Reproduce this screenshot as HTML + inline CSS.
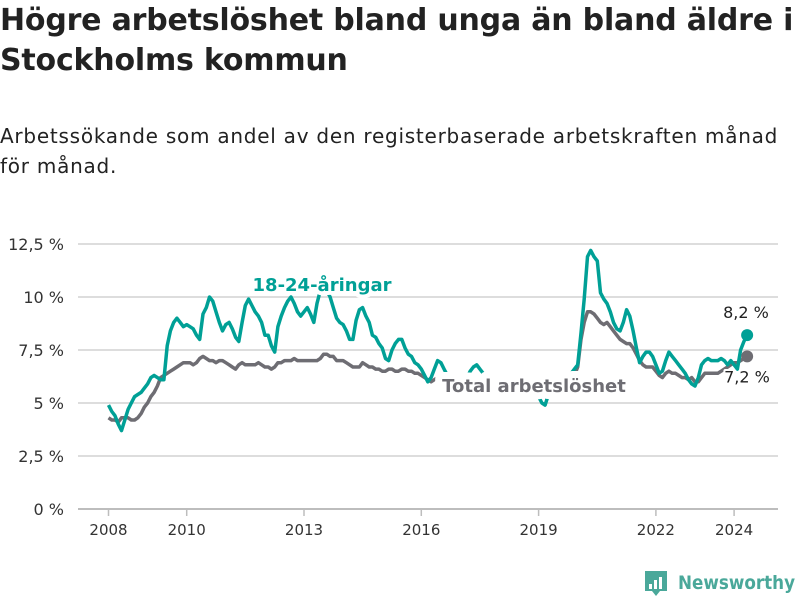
<!DOCTYPE html>
<html><head><meta charset="utf-8">
<style>
body{margin:0;background:#fff;width:800px;height:600px;overflow:hidden;font-family:"Liberation Sans","DejaVu Sans",sans-serif;}
#title{position:absolute;left:0;top:1px;font-size:30px;font-weight:bold;line-height:40px;color:#222;font-family:"DejaVu Sans",sans-serif;letter-spacing:-0.2px;white-space:nowrap;}
#sub{position:absolute;left:0;top:121px;font-size:20px;line-height:30px;color:#222;font-family:"DejaVu Sans",sans-serif;letter-spacing:0.75px;white-space:nowrap;}
svg{position:absolute;left:0;top:0;}
</style></head><body>
<div id="title">Högre arbetslöshet bland unga än bland äldre i<br>Stockholms kommun</div>
<div id="sub">Arbetssökande som andel av den registerbaserade arbetskraften månad<br>för månad.</div>
<svg id="chart" width="800" height="600"></svg>
<script>
const startYear = 2008;
const yTicks = [0, 2.5, 5, 7.5, 10, 12.5];
const yTickLabels = ["0 %", "2,5 %", "5 %", "7,5 %", "10 %", "12,5 %"];
const xTicks = [2008, 2010, 2013, 2016, 2019, 2022, 2024];
const youth = [
4.9,4.6,4.4,4.0,3.7,4.2,4.7,5.0,5.3,5.4,5.5,5.7,
5.9,6.2,6.3,6.2,6.1,6.1,7.7,8.4,8.8,9.0,8.8,8.6,
8.7,8.6,8.5,8.2,8.0,9.2,9.5,10.0,9.8,9.3,8.8,8.4,
8.7,8.8,8.5,8.1,7.9,8.8,9.6,9.9,9.6,9.3,9.1,8.8,
8.2,8.2,7.7,7.4,8.6,9.1,9.5,9.8,10.0,9.7,9.3,9.1,
9.3,9.5,9.2,8.8,9.7,10.3,10.4,10.3,10.0,9.5,9.0,8.8,
8.7,8.4,8.0,8.0,8.9,9.4,9.5,9.1,8.8,8.2,8.1,7.8,
7.6,7.1,7.0,7.5,7.8,8.0,8.0,7.6,7.3,7.2,6.9,6.8,
6.6,6.3,6.0,6.2,6.6,7.0,6.9,6.6,6.3,6.0,5.9,5.8,
5.9,6.0,6.2,6.5,6.7,6.8,6.6,6.4,6.2,6.0,5.9,5.9,
5.9,6.0,6.1,6.1,6.0,5.9,5.8,5.8,5.9,6.0,5.9,5.7,
5.3,5.0,4.9,5.4,5.8,6.0,6.1,6.1,6.2,6.3,6.4,6.6,
6.8,8.3,9.9,11.9,12.2,11.9,11.7,10.2,9.9,9.7,9.3,8.8,
8.5,8.4,8.8,9.4,9.1,8.4,7.6,6.9,7.2,7.4,7.4,7.2,
6.8,6.4,6.5,7.0,7.4,7.2,7.0,6.8,6.6,6.4,6.1,5.9,
5.8,6.2,6.8,7.0,7.1,7.0,7.0,7.0,7.1,7.0,6.8,7.0,
6.8,6.6,7.5,7.9,8.2];
const total = [
4.3,4.2,4.2,4.1,4.3,4.3,4.3,4.2,4.2,4.3,4.5,4.8,
5.0,5.3,5.5,5.8,6.2,6.3,6.4,6.5,6.6,6.7,6.8,6.9,
6.9,6.9,6.8,6.9,7.1,7.2,7.1,7.0,7.0,6.9,7.0,7.0,
6.9,6.8,6.7,6.6,6.8,6.9,6.8,6.8,6.8,6.8,6.9,6.8,
6.7,6.7,6.6,6.7,6.9,6.9,7.0,7.0,7.0,7.1,7.0,7.0,
7.0,7.0,7.0,7.0,7.0,7.1,7.3,7.3,7.2,7.2,7.0,7.0,
7.0,6.9,6.8,6.7,6.7,6.7,6.9,6.8,6.7,6.7,6.6,6.6,
6.5,6.5,6.6,6.6,6.5,6.5,6.6,6.6,6.5,6.5,6.4,6.4,
6.3,6.2,6.1,6.0,6.1,6.2,6.2,6.1,6.0,6.0,6.0,5.9,
5.9,5.9,6.0,6.0,6.1,6.0,5.9,5.9,5.9,5.9,5.8,5.8,
5.8,5.8,5.9,5.9,5.8,5.8,5.8,5.8,5.8,5.7,5.7,5.7,
5.7,5.7,5.6,5.6,5.7,5.8,5.8,5.9,6.0,6.0,6.1,6.3,
6.7,8.0,8.8,9.3,9.3,9.2,9.0,8.8,8.7,8.8,8.6,8.4,
8.2,8.0,7.9,7.8,7.8,7.6,7.3,7.0,6.8,6.7,6.7,6.7,
6.5,6.3,6.2,6.4,6.5,6.4,6.4,6.3,6.2,6.2,6.1,6.2,
6.0,6.0,6.2,6.4,6.4,6.4,6.4,6.4,6.5,6.6,6.7,6.8,
6.9,6.9,7.0,7.1,7.2];

const NS="http://www.w3.org/2000/svg";
const svg=document.getElementById('chart');
const X0=78,X1=778;
function xScale(t){return 108.5+(t-2008)*39.1;}
function yScale(v){return 509-v*21.2;}
function mk(tag,attrs,parent){const e=document.createElementNS(NS,tag);for(const k in attrs)e.setAttribute(k,attrs[k]);(parent||svg).appendChild(e);return e;}

yTicks.forEach((v,i)=>{
  const g=mk('line',{x1:X0,x2:X1,y1:yScale(v),y2:yScale(v),stroke:i===0?'#bdbdbd':'#dddddd','stroke-width':2});
  
  
  const t=mk('text',{x:64,y:yScale(v)+6,'text-anchor':'end','font-size':16,fill:'#333','font-family':'"DejaVu Sans",sans-serif'});
  t.textContent=yTickLabels[i];
  
  
});
xTicks.forEach(yr=>{
  const x=xScale(yr);
  const l=mk('line',{x1:x,x2:x,y1:509,y2:516,stroke:'#bdbdbd','stroke-width':1.5});
  
  
  const t=mk('text',{x:x,y:535,'text-anchor':'middle','font-size':15,fill:'#333','font-family':'"DejaVu Sans",sans-serif'});
  t.textContent=String(yr);
  
  
});
function path(arr){return arr.map((v,i)=>(i?'L':'M')+xScale(startYear+i/12).toFixed(1)+','+yScale(v).toFixed(1)).join('');}
const pg=mk('path',{d:path(total),fill:'none',stroke:'#6e6d73','stroke-width':3.5,'stroke-linejoin':'round'});


const pt=mk('path',{d:path(youth),fill:'none',stroke:'#00a096','stroke-width':3.5,'stroke-linejoin':'round'});


const nL=youth.length-1, tEnd=startYear+nL/12;
const c1=mk('circle',{cx:xScale(tEnd),cy:yScale(youth[nL]),r:6,fill:'#00a096'});


const c2=mk('circle',{cx:xScale(startYear+(total.length-1)/12),cy:yScale(total[total.length-1]),r:6,fill:'#6e6d73'});


function lbl(txt,x,y,size,fill,bold,halo,name){
  const t=mk('text',{x:x,y:y,'font-size':size,fill:fill,'font-weight':bold?'bold':'normal','font-family':'"DejaVu Sans",sans-serif','text-anchor':'middle',stroke:'#fff','stroke-width':halo,'paint-order':'stroke','stroke-linejoin':'round'});
  t.textContent=txt;
  
  
}
lbl('18-24-åringar',322,291,18,'#00a096',true,8,'youth-series-label');
lbl('Total arbetslöshet',534,392,18,'#6e6d73',true,14,'total-series-label');
const ye=yScale(youth[nL]), te=yScale(total[total.length-1]);
lbl(String(youth[nL]).replace('.',',')+' %',746,ye-17,16,'#222',false,4,'youth-end-value');
lbl(String(total[total.length-1]).replace('.',',')+' %',747,te+26,16,'#222',false,4,'total-end-value');
// logo
const lg=mk('g',{});


mk('path',{d:'M645 571 h22 v20 h-7 l-4 5 l-4 -5 h-7 z',fill:'#4aa89a'},lg);
[[649,584,3,5],[654,580,3,9],[659,577,3,12]].forEach(b=>mk('rect',{x:b[0],y:b[1],width:b[2],height:b[3],fill:'#fff'},lg));
const lt=mk('text',{x:678,y:589,'font-size':19,'font-weight':'bold',fill:'#4aa89a','font-family':'"DejaVu Sans",sans-serif',textLength:117,lengthAdjust:'spacingAndGlyphs'},lg);
lt.textContent='Newsworthy';
</script>
</body></html>
